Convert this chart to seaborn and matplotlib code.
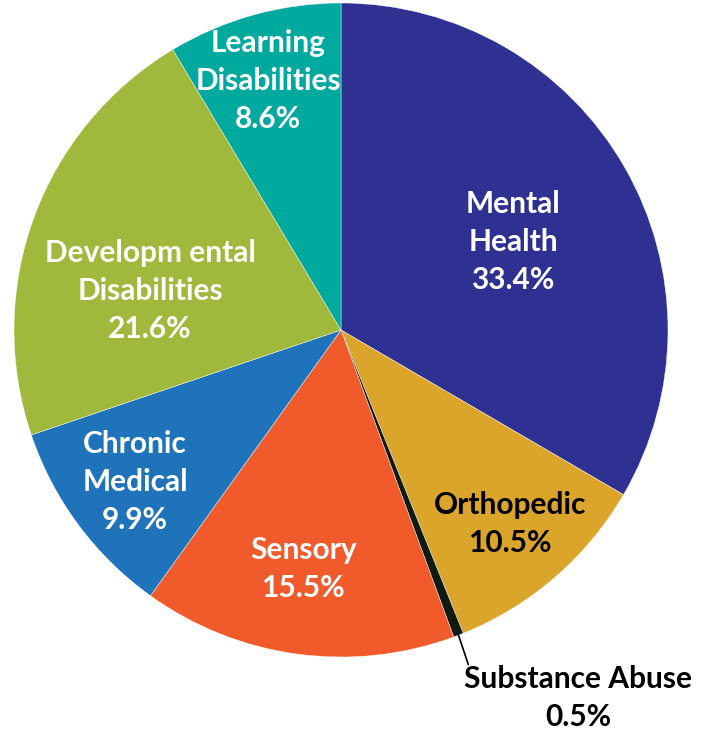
import numpy as np
import matplotlib
matplotlib.use("Agg")
import matplotlib.pyplot as plt
import seaborn as sns

categories = ["Mental\nHealth", "Orthopedic", "Substance Abuse", "Sensory",
              "Chronic\nMedical", "Developm ental\nDisabilities", "Learning\nDisabilities"]
shares = [33.4, 10.5, 0.5, 15.5, 9.9, 21.6, 8.6]
colors = ["#2E3192", "#DAA52A", "#111A10", "#F15A2B", "#1F73BA", "#A0B83C", "#00A99D"]
text_colors = ["white", "black", "black", "white", "white", "white", "white"]
# label centres, in pie-radius units
label_pos = [(0.526, 0.269), (0.517, -0.593), (0.725, -1.125), (-0.116, -0.731),
             (-0.630, -0.465), (-0.584, 0.119), (-0.223, 0.761)]

sns.set_theme(style="white")
plt.rcParams['font.family'] = ['Lato', 'DejaVu Sans']

W, H = 707, 734
cx, cy, R = 341, 330, 327
fig = plt.figure(figsize=(W / 100, H / 100), dpi=100)
ax = fig.add_axes([0, 0, 1, 1])

wedges, _ = ax.pie(shares, colors=colors, startangle=90, counterclock=False,
                   radius=1.0, wedgeprops=dict(linewidth=0.3, edgecolor="white"))

for name, val, tc, (x, y) in zip(categories, shares, text_colors, label_pos):
    ax.text(x, y, f"{name}\n{val}%", ha="center", va="center", color=tc,
            fontsize=21.5, fontweight="bold", linespacing=1.42)

# leader line for the tiny slice
w = wedges[2]
mid = np.deg2rad((w.theta1 + w.theta2) / 2)
x0, y0 = np.cos(mid), np.sin(mid)
ax.plot([x0, x0 + 0.03], [y0, y0 - 0.09], color="black", lw=1.2)

ax.set_xlim(-cx / R, (W - cx) / R)
ax.set_ylim((cy - H) / R, cy / R)
ax.set_aspect("equal")
ax.axis("off")

fig.savefig("out.png", dpi=100)
